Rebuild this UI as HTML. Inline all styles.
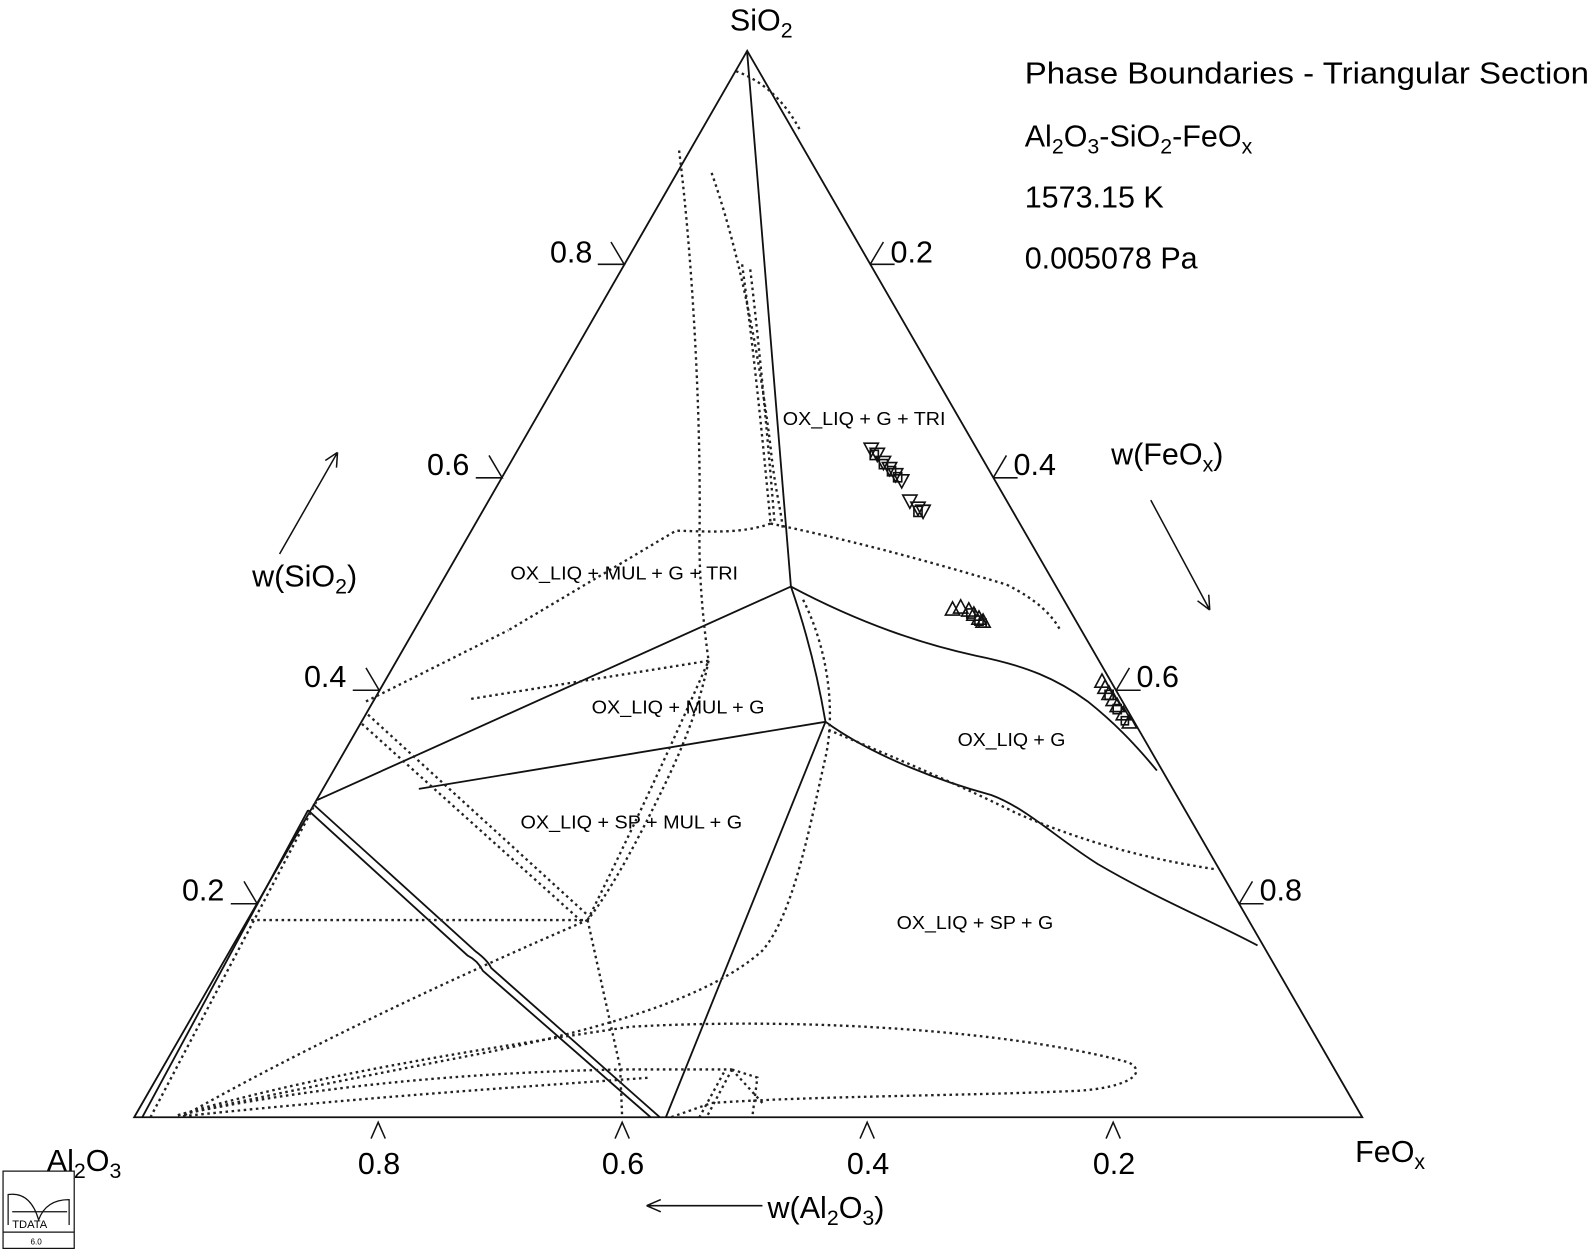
<!DOCTYPE html>
<html><head><meta charset="utf-8"><style>
html,body{margin:0;padding:0;background:#fff;}
svg{display:block;}
text{font-family:"Liberation Sans",sans-serif;fill:#000;}
</style></head><body>
<svg width="1594" height="1252" viewBox="0 0 1594 1252" xmlns="http://www.w3.org/2000/svg">
<g transform="scale(1.0166)">
<g fill="none" stroke="#111" stroke-width="1.8">
<path d="M132,1099 L1340,1099 L735,50 Z"/>
<path d="M735,52 L778,577"/>
<path d="M778,577 L312,787"/>
<path d="M778,577 Q800,640 812,710"/>
<path d="M812,710 L412,776"/>
<path d="M812,710 L655,1099"/>
<path d="M778,577 C840,610 900,632 960,645 C1010,655 1040,668 1070,690 C1095,710 1115,730 1138,758"/>
<path d="M812,710 C860,745 930,770 975,782 C1010,795 1040,825 1080,850 C1140,885 1190,905 1237,930"/>
<path d="M303,797 L460,940 Q470,945 475,955 L640,1099"/>
<path d="M308,791 L468,936 Q480,945 483,952 L649,1099"/>
<path d="M140,1099 L303,797"/>
</g>
<g fill="none" stroke="#222" stroke-width="2.3" stroke-dasharray="2.5,3.5">
<path d="M724,70 Q765,85 788,130"/>
<path d="M148,1099 L312,787"/>
<path d="M668,148 C682,260 690,420 688,530 C688,580 693,620 697,650"/>
<path d="M697,650 C685,710 660,760 640,800 C610,860 590,890 578,905"/>
<path d="M700,170 C735,270 752,390 758,440 C762,480 768,500 770,520"/>
<path d="M730,260 C742,350 750,430 758,515"/>
<path d="M738,265 C748,350 755,430 762,515"/>
<path d="M758,515 C830,530 900,548 990,575 C1020,590 1035,605 1043,620"/>
<path d="M758,515 C730,525 700,523 665,522 L500,620"/>
<path d="M360,690 L500,620"/>
<path d="M697,650 L460,688"/>
<path d="M815,718 C880,745 950,775 1000,800 C1070,830 1130,845 1195,855"/>
<path d="M790,590 C815,640 822,700 812,745 C795,820 780,900 750,935 C700,980 600,1010 480,1035 C350,1060 250,1080 175,1097"/>
<path d="M175,1097 C300,1060 450,1035 620,1010 C800,1000 1000,1015 1110,1045 C1130,1055 1110,1070 1060,1073 C950,1078 800,1078 700,1085 L660,1099"/>
<path d="M247,905 L578,905"/>
<path d="M578,905 Q640,780 697,650"/>
<path d="M578,905 L610,1050 L612,1099"/>
<path d="M578,905 C450,960 300,1030 180,1098"/>
<path d="M175,1097 C300,1070 450,1055 612,1052 L720,1052"/>
<path d="M180,1098 C350,1080 500,1070 640,1060"/>
<path d="M362,703 L580,902"/>
<path d="M356,712 L574,908"/>
<path d="M720,1052 L745,1060 L740,1099"/>
<path d="M720,1052 L695,1099"/>
<path d="M712,1055 L688,1099"/>
<path d="M720,1052 L750,1085"/>
</g>
<g fill="none" stroke="#111" stroke-width="1.5">
<path d="M588,260 L614,260 L601,238"/>
<path d="M468,470 L494,470 L481,448"/>
<path d="M347,679 L373,679 L360,657"/>
<path d="M227,889 L253,889 L240,867"/>
<path d="M856,260 L880,260 M856,260 L869,238"/>
<path d="M977,470 L1001,470 M977,470 L990,448"/>
<path d="M1098,679 L1122,679 M1098,679 L1111,657"/>
<path d="M1219,889 L1243,889 M1219,889 L1232,867"/>
<path d="M365,1120 L372,1104 L379,1120"/>
<path d="M605,1120 L612,1104 L619,1120"/>
<path d="M846,1120 L853,1104 L860,1120"/>
<path d="M1088,1120 L1095,1104 L1102,1120"/>
<path d="M275,545 L332,445 M332,445 L331,460 M332,445 L320,453"/>
<path d="M1132,492 L1190,600 M1190,600 L1189,585 M1190,600 L1178,591"/>
<path d="M750,1186 L636,1186 M636,1186 L650,1180 M636,1186 L650,1192"/>
</g>
<g fill="none" stroke="#111" stroke-width="1.6">
<path d="M850,436 l14,0 l-7,13z M856,441 l14,0 l-7,13z M862,449 l14,0 l-7,13z M868,455 l14,0 l-7,13z M874,461 l14,0 l-7,13z M880,467 l14,0 l-7,13z M888,487 l14,0 l-7,13z M896,494 l14,0 l-7,13z M901,497 l14,0 l-7,13z"/>
<path d="M856,443 h8 v9 h-8z M865,452 h8 v9 h-8z M873,459 h8 v9 h-8z M879,465 h8 v9 h-8z M899,498 h8 v10 h-8z"/>
<path d="M930,605 l7,-13 l7,13z M938,603 l7,-13 l7,13z M946,606 l7,-13 l7,13z M951,610 l7,-13 l7,13z M956,614 l7,-13 l7,13z M960,617 l7,-13 l7,13z"/>
<path d="M951,599 h8 v9 h-8z M959,606 h8 v9 h-8z M963,609 h7 v8 h-7z"/>
<path d="M1077,676 l7,-13 l7,13z M1080,682 l7,-13 l7,13z M1084,688 l7,-13 l7,13z M1088,694 l7,-13 l7,13z M1092,700 l7,-13 l7,13z M1098,708 l7,-13 l7,13z M1104,716 l7,-13 l7,13z"/>
<path d="M1087,679 h8 v9 h-8z M1095,693 h8 v9 h-8z M1103,705 h7 v8 h-7z"/>
</g>
<g font-size="30">
<text x="718" y="30">SiO<tspan font-size="21" dy="7">2</tspan></text>
<text x="46" y="1152">Al<tspan font-size="21" dy="7">2</tspan><tspan dy="-7">O</tspan><tspan font-size="21" dy="7">3</tspan></text>
<text x="1333" y="1143">FeO<tspan font-size="21" dy="7">x</tspan></text>
<text x="541" y="258">0.8</text>
<text x="420" y="467">0.6</text>
<text x="299" y="676">0.4</text>
<text x="179" y="886">0.2</text>
<text x="876" y="258">0.2</text>
<text x="997" y="467">0.4</text>
<text x="1118" y="676">0.6</text>
<text x="1239" y="886">0.8</text>
<text x="352" y="1155">0.8</text>
<text x="592" y="1155">0.6</text>
<text x="833" y="1155">0.4</text>
<text x="1075" y="1155">0.2</text>
<text x="248" y="577">w(SiO<tspan font-size="21" dy="7">2</tspan><tspan dy="-7">)</tspan></text>
<text x="1093" y="457">w(FeO<tspan font-size="21" dy="7">x</tspan><tspan dy="-7">)</tspan></text>
<text x="755" y="1198">w(Al<tspan font-size="21" dy="7">2</tspan><tspan dy="-7">O</tspan><tspan font-size="21" dy="7">3</tspan><tspan dy="-7">)</tspan></text>
<text x="1008" y="82" textLength="555" lengthAdjust="spacingAndGlyphs">Phase Boundaries - Triangular Section</text>
<text x="1008" y="144">Al<tspan font-size="21" dy="7">2</tspan><tspan dy="-7">O</tspan><tspan font-size="21" dy="7">3</tspan><tspan dy="-7">-SiO</tspan><tspan font-size="21" dy="7">2</tspan><tspan dy="-7">-FeO</tspan><tspan font-size="21" dy="7">x</tspan></text>
<text x="1008" y="204">1573.15 K</text>
<text x="1008" y="264">0.005078 Pa</text>
</g>
<g font-size="18">
<text x="770" y="418" textLength="160" lengthAdjust="spacingAndGlyphs">OX_LIQ + G + TRI</text>
<text x="502" y="570" textLength="224" lengthAdjust="spacingAndGlyphs">OX_LIQ + MUL + G + TRI</text>
<text x="582" y="702" textLength="170" lengthAdjust="spacingAndGlyphs">OX_LIQ + MUL + G</text>
<text x="942" y="734" textLength="106" lengthAdjust="spacingAndGlyphs">OX_LIQ + G</text>
<text x="512" y="815" textLength="218" lengthAdjust="spacingAndGlyphs">OX_LIQ + SP + MUL + G</text>
<text x="882" y="914" textLength="154" lengthAdjust="spacingAndGlyphs">OX_LIQ + SP + G</text>
</g>
<g fill="none" stroke="#111" stroke-width="1.2">
<rect x="3" y="1152" width="70" height="76"/>
<line x1="3" y1="1212" x2="73" y2="1212"/>
<path d="M8,1205 V1175 Q30,1172 38,1200 Q45,1180 68,1180 V1205"/>
<line x1="12" y1="1192" x2="66" y2="1192"/>
</g>
<text x="12" y="1208" font-size="11">TDATA</text>
<text x="30" y="1224" font-size="8">6.0</text>
</g>
</svg>
</body></html>
